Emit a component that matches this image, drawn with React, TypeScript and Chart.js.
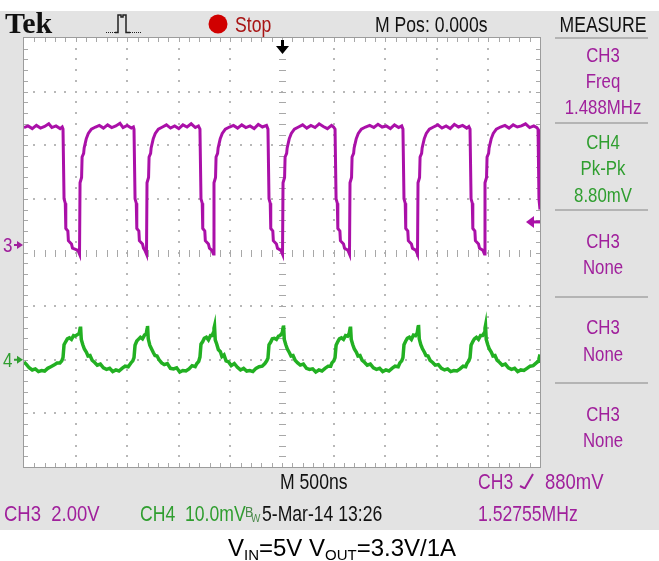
import React, { useEffect, useRef } from 'react';
import { Chart, registerables } from 'chart.js';

Chart.register(...registerables);

// ---- Data (time in ns, amplitude in screen divisions) ----
const timeRange = [-2500, 2500];
const divRange = [-4, 4];

const ch3Points: [number, number][] = [
  [-2500, 2.33], [-2460, 2.36], [-2420, 2.31], [-2380, 2.37], [-2340, 2.32], [-2300, 2.35], [-2260, 2.40], [-2230, 2.33], [-2190, 2.36], [-2150, 2.31], [-2130, 2.34],
  [-2122, 2.30], [-2112, 1.00], [-2100, 0.92], [-2095, 0.45], [-2075, 0.40], [-2070, 0.22], [-2040, 0.16], [-2030, 0.08], [-1977, 0.04], [-1962, -0.03],
  [-1957, 1.30], [-1942, 1.40], [-1937, 1.78], [-1922, 1.85], [-1917, 1.95], [-1897, 2.12], [-1877, 2.22], [-1847, 2.30], [-1807, 2.34], [-1770, 2.37], [-1730, 2.32], [-1690, 2.38], [-1650, 2.33], [-1610, 2.36], [-1570, 2.41], [-1540, 2.33], [-1500, 2.37], [-1460, 2.32], [-1440, 2.34],
  [-1434, 2.30], [-1424, 1.00], [-1412, 0.92], [-1407, 0.45], [-1387, 0.40], [-1382, 0.22], [-1352, 0.16], [-1342, 0.08], [-1328, 0.04], [-1313, -0.03],
  [-1308, 1.30], [-1293, 1.40], [-1288, 1.78], [-1273, 1.85], [-1268, 1.95], [-1248, 2.12], [-1228, 2.22], [-1198, 2.30], [-1158, 2.34], [-1120, 2.38], [-1080, 2.32], [-1040, 2.36], [-1000, 2.31], [-960, 2.38], [-920, 2.34], [-880, 2.40], [-840, 2.33], [-810, 2.36],
  [-795, 2.30], [-785, 1.00], [-773, 0.92], [-768, 0.45], [-748, 0.40], [-743, 0.22], [-713, 0.16], [-703, 0.08], [-679, 0.04], [-664, -0.03],
  [-659, 1.30], [-644, 1.40], [-639, 1.78], [-624, 1.85], [-619, 1.95], [-599, 2.12], [-579, 2.22], [-549, 2.30], [-509, 2.34], [-470, 2.37], [-430, 2.32], [-390, 2.38], [-350, 2.33], [-310, 2.36], [-270, 2.31], [-230, 2.39], [-190, 2.34], [-150, 2.37],
  [-136, 2.30], [-126, 1.00], [-114, 0.92], [-109, 0.45], [-89, 0.40], [-84, 0.22], [-54, 0.16], [-44, 0.08], [-10, 0.04], [5, -0.03],
  [10, 1.30], [25, 1.40], [30, 1.78], [45, 1.85], [50, 1.95], [70, 2.12], [90, 2.22], [120, 2.30], [160, 2.34], [200, 2.38], [240, 2.32], [280, 2.37], [320, 2.33], [360, 2.40], [400, 2.35], [440, 2.31], [480, 2.37], [500, 2.34],
  [514, 2.30], [524, 1.00], [536, 0.92], [541, 0.45], [561, 0.40], [566, 0.22], [596, 0.16], [606, 0.08], [639, 0.04], [654, -0.03],
  [659, 1.30], [674, 1.40], [679, 1.78], [694, 1.85], [699, 1.95], [719, 2.12], [739, 2.22], [769, 2.30], [809, 2.34], [850, 2.37], [890, 2.33], [930, 2.39], [970, 2.34], [1010, 2.36], [1050, 2.31], [1090, 2.38], [1130, 2.33], [1160, 2.36],
  [1172, 2.30], [1182, 1.00], [1194, 0.92], [1199, 0.45], [1219, 0.40], [1224, 0.22], [1254, 0.16], [1264, 0.08], [1298, 0.04], [1313, -0.03],
  [1318, 1.30], [1333, 1.40], [1338, 1.78], [1353, 1.85], [1358, 1.95], [1378, 2.12], [1398, 2.22], [1428, 2.30], [1468, 2.34], [1510, 2.38], [1550, 2.32], [1590, 2.36], [1630, 2.31], [1670, 2.39], [1710, 2.34], [1750, 2.37], [1790, 2.32], [1810, 2.35],
  [1822, 2.30], [1832, 1.00], [1844, 0.92], [1849, 0.45], [1869, 0.40], [1874, 0.22], [1904, 0.16], [1914, 0.08], [1947, 0.04], [1962, -0.03],
  [1967, 1.30], [1982, 1.40], [1987, 1.78], [2002, 1.85], [2007, 1.95], [2027, 2.12], [2047, 2.22], [2077, 2.30], [2117, 2.34], [2160, 2.37], [2200, 2.32], [2240, 2.38], [2280, 2.34], [2320, 2.36], [2360, 2.40], [2400, 2.33], [2440, 2.36], [2470, 2.33],
  [2481, 2.30], [2490, 1.00], [2500, 0.80],
];

const ch4Points: [number, number][] = [
  [-2500, -2.04], [-2475, -2.09], [-2450, -2.15], [-2420, -2.19], [-2390, -2.17], [-2360, -2.22], [-2330, -2.20], [-2300, -2.21], [-2270, -2.16], [-2240, -2.13], [-2210, -2.10], [-2180, -2.06], [-2152, -2.06], [-2134, -2.02],
  [-2122, -1.96], [-2112, -1.72], [-2095, -1.66], [-2080, -1.61], [-2060, -1.59], [-2040, -1.62], [-2020, -1.55], [-2005, -1.56], [-1965, -1.51], [-1957, -1.42], [-1952, -1.38],
  [-1945, -1.62], [-1930, -1.72], [-1915, -1.80], [-1895, -1.86], [-1880, -1.93], [-1860, -1.92], [-1840, -2.01], [-1815, -2.05], [-1790, -2.10], [-1760, -2.08], [-1730, -2.15], [-1700, -2.18], [-1670, -2.16], [-1640, -2.22], [-1610, -2.19], [-1580, -2.21], [-1550, -2.16], [-1520, -2.12], [-1490, -2.13], [-1464, -2.06], [-1446, -2.02],
  [-1434, -1.96], [-1424, -1.73], [-1407, -1.65], [-1392, -1.62], [-1372, -1.58], [-1352, -1.61], [-1332, -1.54], [-1316, -1.52], [-1308, -1.43], [-1303, -1.37],
  [-1296, -1.61], [-1281, -1.73], [-1266, -1.79], [-1246, -1.87], [-1231, -1.92], [-1211, -1.93], [-1191, -2.00], [-1166, -2.06], [-1141, -2.09], [-1111, -2.07], [-1081, -2.16], [-1051, -2.17], [-1021, -2.15], [-991, -2.23], [-961, -2.20], [-931, -2.21], [-901, -2.17], [-871, -2.11], [-841, -2.13], [-825, -2.07], [-807, -2.03],
  [-795, -1.95], [-785, -1.71], [-768, -1.66], [-753, -1.60], [-733, -1.58], [-713, -1.63], [-693, -1.55], [-678, -1.55], [-667, -1.50], [-659, -1.41], [-654, -1.37],
  [-647, -1.63], [-632, -1.71], [-617, -1.81], [-597, -1.85], [-582, -1.94], [-562, -1.91], [-542, -2.02], [-517, -2.04], [-492, -2.11], [-462, -2.07], [-432, -2.14], [-402, -2.19], [-372, -2.16], [-342, -2.21], [-312, -2.20], [-282, -2.22], [-252, -2.16], [-222, -2.13], [-192, -2.12], [-166, -2.07], [-148, -2.02],
  [-136, -1.97], [-126, -1.72], [-109, -1.67], [-94, -1.61], [-74, -1.60], [-54, -1.62], [-34, -1.56], [-19, -1.55], [2, -1.50], [10, -1.41], [15, -1.36],
  [22, -1.62], [37, -1.72], [52, -1.80], [72, -1.87], [87, -1.93], [107, -1.92], [127, -2.01], [152, -2.06], [177, -2.10], [207, -2.08], [237, -2.16], [267, -2.18], [297, -2.17], [327, -2.23], [357, -2.19], [387, -2.21], [417, -2.16], [447, -2.12], [472, -2.12], [484, -2.06], [502, -2.02],
  [514, -1.96], [524, -1.73], [541, -1.66], [556, -1.61], [576, -1.59], [596, -1.62], [616, -1.55], [636, -1.56], [651, -1.51], [659, -1.42], [664, -1.38],
  [671, -1.62], [686, -1.72], [701, -1.80], [721, -1.86], [736, -1.93], [756, -1.92], [776, -2.01], [801, -2.05], [826, -2.10], [856, -2.08], [886, -2.15], [916, -2.18], [946, -2.16], [976, -2.22], [1006, -2.19], [1036, -2.21], [1066, -2.16], [1096, -2.12], [1126, -2.13], [1142, -2.06], [1160, -2.02],
  [1172, -1.96], [1182, -1.72], [1199, -1.65], [1214, -1.60], [1234, -1.58], [1254, -1.62], [1274, -1.54], [1294, -1.55], [1310, -1.50], [1318, -1.40], [1323, -1.35],
  [1330, -1.61], [1345, -1.72], [1360, -1.79], [1380, -1.86], [1395, -1.92], [1415, -1.93], [1435, -2.01], [1460, -2.05], [1485, -2.10], [1515, -2.09], [1545, -2.16], [1575, -2.19], [1605, -2.17], [1635, -2.22], [1665, -2.20], [1695, -2.21], [1725, -2.17], [1755, -2.12], [1780, -2.13], [1792, -2.07], [1810, -2.02],
  [1822, -1.96], [1832, -1.73], [1849, -1.66], [1864, -1.61], [1884, -1.58], [1904, -1.62], [1924, -1.55], [1944, -1.55], [1959, -1.50], [1967, -1.41], [1972, -1.36],
  [1979, -1.62], [1994, -1.72], [2009, -1.80], [2029, -1.86], [2044, -1.93], [2064, -1.92], [2084, -2.01], [2109, -2.05], [2134, -2.10], [2164, -2.08], [2194, -2.15], [2224, -2.18], [2254, -2.16], [2284, -2.22], [2314, -2.19], [2344, -2.20], [2374, -2.16], [2404, -2.12], [2434, -2.11], [2464, -2.06], [2484, -2.03], [2490, -1.98], [2500, -1.90],
];

const ch3GroundDiv = 0.14;
const ch4GroundDiv = -2.0;
const ch3TriggerDiv = 0.57;

const headerLabels = ['Tek', 'Stop', 'M Pos: 0.000s', 'MEASURE'];
const measureRows = [
  ['CH3', 'Freq', '1.488MHz'],
  ['CH4', 'Pk-Pk', '8.80mV'],
  ['CH3', 'None'],
  ['CH3', 'None'],
  ['CH3', 'None'],
];
const footerLabels = ['M 500ns', 'CH3', '880mV', 'CH3  2.00V', 'CH4  10.0mV', '5-Mar-14 13:26', '1.52755MHz'];
const captionParts = ['V', 'IN', '=5V V', 'OUT', '=3.3V/1A'];

// ---- Styles ----
const PURPLE = '#aa10a8';
const PURPLE_TXT = '#a0209c';
const GREEN = '#22b022';
const GREEN_TXT = '#2f9e2f';
const BG = '#e3e3e3';
const GRID = '#b8b8b8';
const TICK = '#a8a8a8';
const SCOPE_FONT = "'Liberation Sans', Arial, sans-serif";

function txt(ctx: CanvasRenderingContext2D, s: string, x: number, y: number, color: string,
  o: { size?: number; align?: CanvasTextAlign; sx?: number; font?: string; weight?: string } = {}) {
  const size = o.size ?? 21;
  ctx.save();
  ctx.font = `${o.weight ?? 'normal'} ${size}px ${o.font ?? SCOPE_FONT}`;
  ctx.fillStyle = color;
  ctx.textBaseline = 'alphabetic';
  ctx.textAlign = o.align ?? 'left';
  ctx.translate(x, y);
  ctx.scale(o.sx ?? 0.8, 1);
  ctx.fillText(s, 0, 0);
  ctx.restore();
}

const scopePlugin = {
  id: 'scopeChrome',
  beforeDraw(chart: any) {
    const ctx: CanvasRenderingContext2D = chart.ctx;
    const a = chart.chartArea;
    const W = chart.width, H = chart.height;
    ctx.save();
    ctx.fillStyle = '#ffffff';
    ctx.fillRect(0, 0, W, H);
    ctx.fillStyle = BG;
    ctx.fillRect(0, 11, W, 519);

    const L = a.left, R = a.right, T = a.top, B = a.bottom;
    const dx = (R - L) / 10, dy = (B - T) / 8;
    ctx.fillStyle = '#ffffff';
    ctx.fillRect(L, T, R - L, B - T);

    // dotted graticule
    ctx.fillStyle = GRID;
    for (let i = 1; i < 10; i++) {
      if (i === 5) continue;
      const x = Math.round(L + i * dx);
      for (let j = 1; j < 40; j++) {
        const y = Math.round(T + (j * dy) / 5);
        ctx.fillRect(x - 1, y - 1, 2, 2);
      }
    }
    for (let j = 1; j < 8; j++) {
      if (j === 4) continue;
      const y = Math.round(T + j * dy);
      for (let i = 1; i < 50; i++) {
        const x = Math.round(L + (i * dx) / 5);
        ctx.fillRect(x - 1, y - 1, 2, 2);
      }
    }
    // center cross ticks
    ctx.fillStyle = TICK;
    const cx = Math.round(L + 5 * dx), cy = Math.round(T + 4 * dy);
    for (let j = 1; j < 40; j++) {
      const y = Math.round(T + (j * dy) / 5);
      ctx.fillRect(cx - 3, y, 7, 1);
    }
    for (let i = 1; i < 50; i++) {
      const x = Math.round(L + (i * dx) / 5);
      ctx.fillRect(x, cy - 3, 1, 7);
    }
    // edge ticks
    for (let i = 1; i < 50; i++) {
      const x = Math.round(L + (i * dx) / 5);
      ctx.fillRect(x, T, 1, 4);
      ctx.fillRect(x, B - 4, 1, 4);
    }
    for (let j = 1; j < 40; j++) {
      const y = Math.round(T + (j * dy) / 5);
      ctx.fillRect(L, y, 4, 1);
      ctx.fillRect(R - 4, y, 4, 1);
    }
    ctx.strokeStyle = '#9c9c9c';
    ctx.lineWidth = 1;
    ctx.strokeRect(L - 0.5, T - 0.5, R - L + 1, B - T + 1);

    // ---- header ----
    txt(ctx, headerLabels[0], 5, 33, '#111111', { size: 30, sx: 1, weight: 'bold', font: "'Liberation Serif', 'DejaVu Serif', serif" });
    // trigger icon
    ctx.fillStyle = '#222222';
    for (let x = 106; x <= 115; x += 2) ctx.fillRect(x, 32, 1, 1);
    for (let x = 130; x <= 141; x += 2) ctx.fillRect(x, 32, 1, 1);
    ctx.strokeStyle = '#222222';
    ctx.lineWidth = 1.5;
    ctx.beginPath();
    ctx.moveTo(115, 32.5); ctx.lineTo(118, 32.5); ctx.lineTo(118, 15); ctx.lineTo(121, 15); ctx.lineTo(121, 17);
    ctx.lineTo(123, 17); ctx.lineTo(123, 15); ctx.lineTo(126, 15); ctx.lineTo(126, 32.5); ctx.lineTo(130, 32.5);
    ctx.stroke();
    // stop indicator
    ctx.fillStyle = '#d00000';
    ctx.beginPath();
    ctx.arc(218, 24, 9.5, 0, Math.PI * 2);
    ctx.fill();
    txt(ctx, headerLabels[1], 235, 32, '#a81414', { size: 22 });
    txt(ctx, headerLabels[2], 375, 32, '#111111', { size: 22 });
    txt(ctx, headerLabels[3], 603, 32, '#111111', { size: 22, align: 'center' });

    // ---- measure panel ----
    ctx.fillStyle = '#b4b4b4';
    [37, 122, 209, 296, 382].forEach((y) => ctx.fillRect(555, y, 93, 2));
    const rowBase = [[62, 88, 114], [149, 175, 202], [248, 274], [334, 361], [421, 447]];
    measureRows.forEach((row, r) => {
      const col = r === 1 ? GREEN_TXT : PURPLE_TXT;
      row.forEach((s, k) => txt(ctx, s, 603, rowBase[r][k], col, { size: 21, align: 'center' }));
    });

    // ---- footer ----
    txt(ctx, footerLabels[0], 280, 489, '#111111', { size: 22 });
    txt(ctx, footerLabels[1], 478, 489, PURPLE_TXT, { size: 22 });
    ctx.strokeStyle = PURPLE_TXT;
    ctx.lineWidth = 2;
    ctx.beginPath();
    ctx.moveTo(520, 486); ctx.lineTo(524, 488); ctx.lineTo(525, 488); ctx.lineTo(533, 474);
    ctx.stroke();
    txt(ctx, footerLabels[2], 545, 489, PURPLE_TXT, { size: 22, sx: 0.84 });
    txt(ctx, footerLabels[3], 4, 521, PURPLE_TXT, { size: 22, sx: 0.84 });
    txt(ctx, footerLabels[4], 140, 521, GREEN_TXT, { size: 22 });
    txt(ctx, 'B', 245, 517, '#4a8a4a', { size: 14, sx: 0.9 });
    txt(ctx, 'W', 251, 522, '#4a8a4a', { size: 11, sx: 0.9 });
    txt(ctx, footerLabels[5], 262, 521, '#111111', { size: 22 });
    txt(ctx, footerLabels[6], 478, 521, PURPLE_TXT, { size: 22 });

    // ---- caption ----
    ctx.fillStyle = '#000000';
    ctx.textAlign = 'left';
    ctx.textBaseline = 'alphabetic';
    let x = 228;
    const base = 556;
    captionParts.forEach((p, k) => {
      const sub = k === 1 || k === 3;
      ctx.font = sub ? "15px 'Liberation Sans', Arial, sans-serif" : "24px 'Liberation Sans', Arial, sans-serif";
      ctx.fillText(p, x, sub ? base + 4 : base);
      x += ctx.measureText(p).width;
    });
    ctx.restore();
  },
  afterDatasetsDraw(chart: any) {
    const ctx: CanvasRenderingContext2D = chart.ctx;
    const a = chart.chartArea;
    const ys = chart.scales.y;
    const xs = chart.scales.x;
    ctx.save();
    // channel ground markers
    const g3 = ys.getPixelForValue(ch3GroundDiv);
    const g4 = ys.getPixelForValue(ch4GroundDiv);
    const drawMarker = (label: string, y: number, color: string) => {
      txt(ctx, label, 3, y + 7, color, { size: 20, sx: 0.85 });
      ctx.fillStyle = color;
      ctx.fillRect(14, y - 1, 5, 2);
      ctx.beginPath();
      ctx.moveTo(23, y); ctx.lineTo(17, y - 4); ctx.lineTo(17, y + 4); ctx.closePath();
      ctx.fill();
    };
    drawMarker('3', g3, PURPLE_TXT);
    drawMarker('4', g4, GREEN_TXT);
    // trigger level marker
    const tl = ys.getPixelForValue(ch3TriggerDiv);
    ctx.fillStyle = PURPLE;
    ctx.beginPath();
    ctx.moveTo(a.right - 14, tl); ctx.lineTo(a.right - 6, tl - 6); ctx.lineTo(a.right - 6, tl + 6); ctx.closePath();
    ctx.fill();
    ctx.fillRect(a.right - 7, tl - 1.5, 7, 3);
    // trigger position arrow
    const tp = Math.round(xs.getPixelForValue(0));
    ctx.fillStyle = '#000000';
    ctx.fillRect(tp - 1, a.top + 2, 3, 8);
    ctx.beginPath();
    ctx.moveTo(tp - 6, a.top + 8); ctx.lineTo(tp + 7, a.top + 8); ctx.lineTo(tp + 0.5, a.top + 16); ctx.closePath();
    ctx.fill();
    ctx.restore();
  },
};

export default function App() {
  const ref = useRef<HTMLCanvasElement | null>(null);
  useEffect(() => {
    const canvas = ref.current;
    if (!canvas) return;
    const chart = new Chart(canvas, {
      type: 'line',
      data: {
        datasets: [
          {
            label: 'CH3',
            data: ch3Points.map(([x, y]) => ({ x, y })),
            borderColor: PURPLE,
            borderWidth: 3,
            pointRadius: 0,
            tension: 0,
            fill: false,
          },
          {
            label: 'CH4',
            data: ch4Points.map(([x, y]) => ({ x, y })),
            borderColor: GREEN,
            borderWidth: 3.5,
            pointRadius: 0,
            tension: 0,
            fill: false,
          },
        ],
      },
      options: {
        animation: false,
        responsive: false,
        maintainAspectRatio: false,
        events: [],
        layout: { padding: { left: 24, top: 38, right: 119, bottom: 94 } },
        scales: {
          x: { type: 'linear', min: timeRange[0], max: timeRange[1], display: false },
          y: { type: 'linear', min: divRange[0], max: divRange[1], display: false },
        },
        plugins: { legend: { display: false }, tooltip: { enabled: false }, title: { display: false } },
      },
      plugins: [scopePlugin],
    } as any);
    return () => chart.destroy();
  }, []);
  return (
    <div style={{ position: 'fixed', left: 0, top: 0, width: 659, height: 561, background: '#fff' }}>
      <canvas ref={ref} width={659} height={561} style={{ display: 'block', width: 659, height: 561 }} />
    </div>
  );
}
